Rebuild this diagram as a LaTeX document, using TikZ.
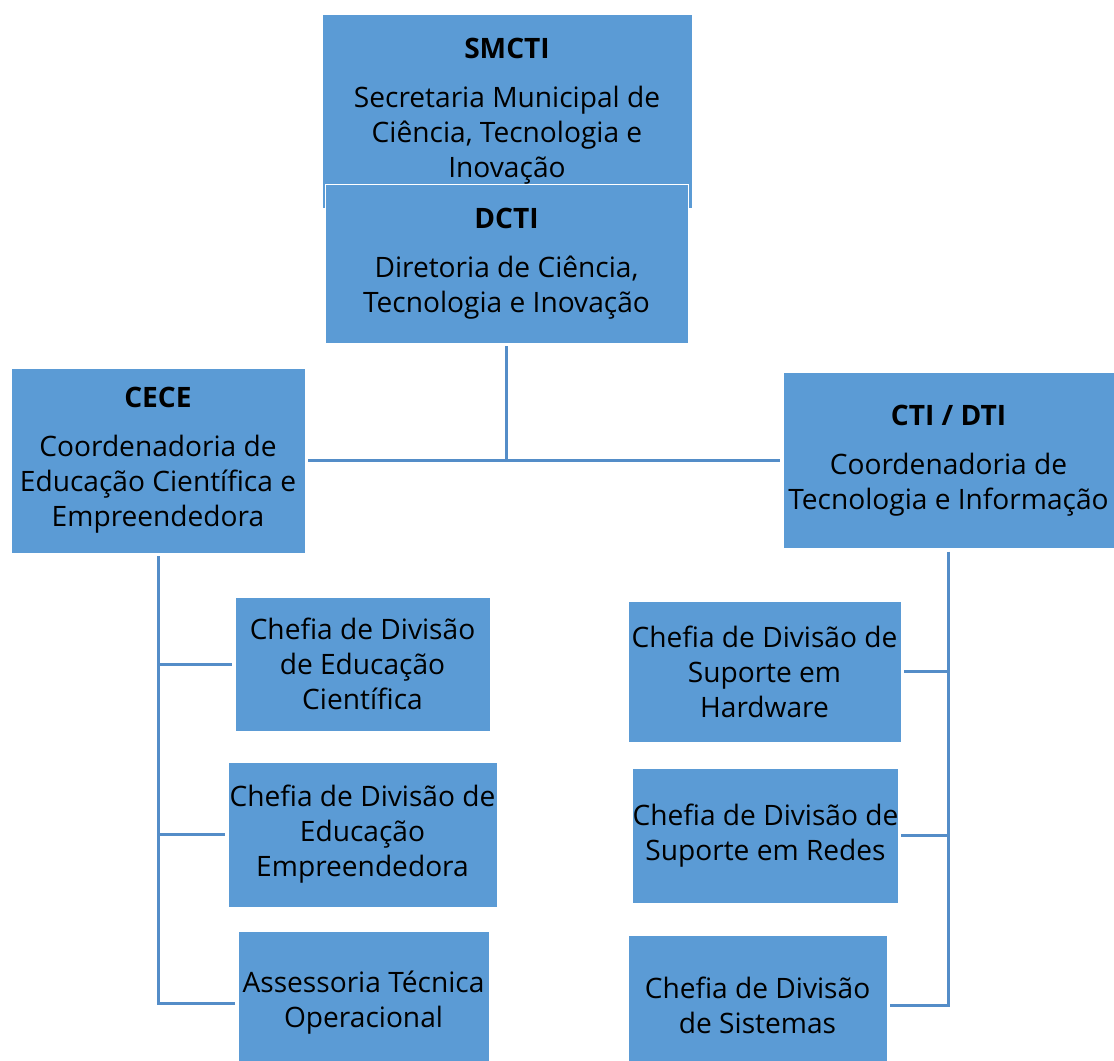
\documentclass[tikz,border=0pt]{standalone}
\usepackage{fontspec}
\setmainfont{Open Sans}
\definecolor{boxblue}{RGB}{91,155,213}
\definecolor{lineblue}{RGB}{84,141,200}

\begin{document}
\begin{tikzpicture}[auto]
                \useasboundingbox (0,0) rectangle (22.28,-21.22);
                \begin{scope}[every node/.style={rectangle,fill=boxblue,draw=white,line width=0.5pt,
                        align=center,inner sep=0pt,outer sep=0.06cm,
                        font=\fontsize{16}{19.9}\selectfont}]
                    \node (SMCTI) [minimum width=7.4cm,minimum height=3.88cm] at (10.14,-2.22)
                        {\textbf{SMCTI}\\[0.28cm]Secretaria Municipal de\\Ciência, Tecnologia e\\Inovação};
                    \node (DCTI) [minimum width=7.26cm,minimum height=3.18cm] at (10.13,-5.27)
                        {\textbf{DCTI}\\[0.28cm]Diretoria de Ciência,\\Tecnologia e Inovação};
                    \node (CECE) [minimum width=5.88cm,minimum height=3.7cm] at (3.16,-9.21)
                        {\textbf{CECE}\\[0.28cm]Coordenadoria de\\Educação Científica e\\Empreendedora};
                    \node (CTI) [minimum width=6.62cm,minimum height=3.52cm] at (18.97,-9.21)
                        {\textbf{CTI / DTI}\\[0.28cm]Coordenadoria de\\Tecnologia e Informação};
                    \node (CDEC) [minimum width=5.1cm,minimum height=2.68cm] at (7.25,-13.28)
                        {Chefia de Divisão\\de Educação\\Científica};
                    \node (CDEE) [minimum width=5.38cm,minimum height=2.9cm] at (7.25,-16.69)
                        {Chefia de Divisão de\\Educação\\Empreendedora};
                    \node (ATO) [minimum width=5.02cm,minimum height=2.88cm] at (7.27,-20.06)
                        {Assessoria Técnica\\Operacional};
                    \node (CDSH) [minimum width=5.46cm,minimum height=2.82cm] at (15.29,-13.43)
                        {Chefia de Divisão de\\Suporte em\\Hardware};
                    \node (CDSR) [minimum width=5.3cm,minimum height=2.7cm] at (15.31,-16.71)
                        {Chefia de Divisão de\\Suporte em Redes};
                    \node (CDS) [minimum width=5.18cm,minimum height=2.8cm] at (15.15,-20.1)
                        {Chefia de Divisão\\de Sistemas};
                \end{scope}
                \begin{scope}[every path/.style={draw=lineblue,line width=0.06cm}]
                    \draw (DCTI.south) -- (DCTI.south |- CECE.east);
                    \draw (CECE.east) -- (CTI.west);
                    \draw (CECE.south) |- (ATO.west);
                    \draw (CECE.south |- CDEC.west) -- (CDEC.west);
                    \draw (CECE.south |- CDEE.west) -- (CDEE.west);
                    \draw (CTI.south) |- (CDS.east);
                    \draw (CTI.south |- CDSH.east) -- (CDSH.east);
                    \draw (CTI.south |- CDSR.east) -- (CDSR.east);
                \end{scope}
            \end{tikzpicture}
\end{document}
